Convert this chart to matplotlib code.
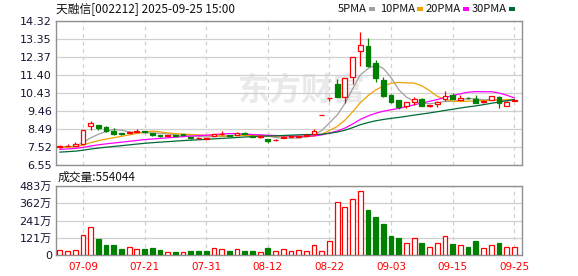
import numpy as np
import pandas as pd
import matplotlib
matplotlib.use('Agg')
import matplotlib.pyplot as plt
from matplotlib.patches import Rectangle

plt.rcParams['font.family'] = ['DejaVu Sans', 'Noto Sans CJK SC']

# ---------------- data ----------------
title_text = '天融信[002212] 2025-09-25 15:00'
vol_title = '成交量:554044'
watermark = '东方财富'

dates = ['07-04', '07-07', '07-08', '07-09', '07-10', '07-11', '07-14', '07-15', '07-16', '07-17',
         '07-18', '07-21', '07-22', '07-23', '07-24', '07-25', '07-28', '07-29', '07-30', '07-31',
         '08-01', '08-04', '08-05', '08-06', '08-07', '08-08', '08-11', '08-12', '08-13', '08-14',
         '08-15', '08-18', '08-19', '08-20', '08-21', '08-22', '08-25', '08-26', '08-27', '08-28',
         '08-29', '09-01', '09-02', '09-03', '09-04', '09-05', '09-08', '09-09', '09-10', '09-11',
         '09-12', '09-15', '09-16', '09-17', '09-18', '09-19', '09-22', '09-23', '09-24', '09-25']
tick_dates = ['07-09', '07-21', '07-31', '08-12', '08-22', '09-03', '09-15', '09-25']

opens = [7.52, 7.56, 7.60, 7.68, 8.65, 8.72, 8.58, 8.36, 8.25, 8.28,
         8.33, 8.37, 8.28, 8.15, 8.13, 8.17, 8.20, 8.05, 7.98, 7.97,
         8.12, 8.20, 8.18, 8.17, 8.27, 8.14, 8.05, 7.96, 7.88, 8.02,
         8.08, 8.07, 8.12, 8.20, 9.25, 10.18, 10.93, 10.24, 11.28, 12.72,
         12.99, 12.04, 11.14, 10.33, 10.05, 9.73, 9.95, 10.09, 9.74, 9.86,
         10.12, 10.35, 10.07, 10.17, 10.09, 9.93, 10.06, 10.22, 9.75, 10.02]
closes = [7.56, 7.60, 7.67, 8.44, 8.80, 8.52, 8.38, 8.23, 8.22, 8.31,
          8.36, 8.34, 8.15, 8.12, 8.15, 8.13, 8.17, 8.02, 8.01, 8.00,
          8.20, 8.23, 8.14, 8.30, 8.24, 8.08, 8.10, 7.84, 7.91, 8.06,
          8.10, 8.12, 8.17, 8.41, 9.25, 10.18, 10.22, 11.24, 12.36, 13.02,
          11.91, 11.23, 10.27, 9.93, 9.70, 9.93, 10.11, 9.76, 9.78, 9.95,
          10.30, 10.13, 10.15, 10.14, 9.90, 10.02, 10.27, 9.90, 9.97, 10.06]
highs = [7.62, 7.70, 7.78, 8.44, 8.92, 8.73, 8.66, 8.52, 8.28, 8.40,
         8.48, 8.40, 8.29, 8.18, 8.17, 8.19, 8.22, 8.06, 8.08, 8.02,
         8.22, 8.38, 8.19, 8.32, 8.31, 8.15, 8.12, 7.97, 7.95, 8.14,
         8.14, 8.14, 8.22, 8.48, 9.25, 10.18, 11.20, 11.24, 12.36, 13.70,
         13.42, 12.22, 11.30, 10.36, 10.08, 9.95, 10.24, 10.15, 9.80, 10.00,
         10.53, 10.45, 10.33, 10.20, 10.33, 10.05, 10.28, 10.25, 9.98, 10.07]
lows = [7.45, 7.55, 7.58, 7.65, 8.45, 8.42, 8.32, 8.18, 8.17, 8.26,
        8.32, 8.30, 8.12, 8.06, 8.10, 8.12, 8.13, 7.96, 7.96, 7.96,
        8.10, 8.15, 8.11, 8.15, 8.20, 8.06, 8.00, 7.75, 7.84, 8.00,
        8.06, 8.05, 8.10, 8.17, 9.25, 10.00, 10.20, 9.91, 10.92, 11.87,
        11.85, 11.05, 10.24, 9.88, 9.57, 9.61, 9.79, 9.74, 9.68, 9.66,
        10.00, 10.10, 10.05, 10.12, 9.88, 9.90, 10.04, 9.61, 9.73, 10.01]
# volume in 万 (10k lots)
volumes = [35, 28, 35, 140, 194, 112, 70, 70, 42, 54,
           40, 42, 49, 35, 21, 21, 21, 28, 28, 28,
           47, 42, 28, 40, 30, 28, 19, 49, 26, 40,
           26, 33, 26, 68, 26, 98, 369, 334, 390, 446,
           315, 266, 217, 133, 119, 82, 117, 84, 54, 82,
           131, 77, 68, 56, 98, 47, 68, 84, 54, 55.4]
# closes before the visible window (estimated), needed for the moving averages
prior_closes = [6.85, 6.90, 6.88, 6.92, 6.95, 6.98, 6.96, 7.00, 7.02, 7.04,
                7.10, 7.18, 7.25, 7.30, 7.28, 7.32, 7.35, 7.33, 7.38, 7.40,
                7.45, 7.48, 7.50, 7.46, 7.47, 7.50, 7.53, 7.49, 7.52]

price_range = [6.55, 14.32]
price_tick_labels = ['6.55', '7.52', '8.49', '9.46', '10.43', '11.40', '12.37', '13.35', '14.32']
vol_max = 483
vol_tick_labels = ['0', '121万', '241万', '362万', '483万']

ma_periods = [5, 10, 20, 30]
ma_names = ['5PMA', '10PMA', '20PMA', '30PMA']
ma_colors = ['#a0a0a0', '#f0a000', '#ff00ff', '#006a36']

# ---------------- styling ----------------
RED = '#ff0000'
GREEN = '#008000'
GRID = '#d0d0d0'
SPINE = '#909090'
W, H = 578, 276

fig = plt.figure(figsize=(W / 100, H / 100), dpi=100)


def rect(l, t, r, b):
    return [l / W, 1 - b / H, (r - l) / W, (b - t) / H]


axp = fig.add_axes(rect(56, 21, 522, 165))
axv = fig.add_axes(rect(56, 186, 522, 255))

n = len(closes)
x = np.arange(n)
o = np.array(opens)
c = np.array(closes)
h = np.array(highs)
l = np.array(lows)
up = c >= o
col = np.where(up, RED, GREEN)
face = np.where(up, 'white', GREEN)
bhi = np.maximum(o, c)
blo = np.minimum(o, c)

xlim = (-0.5, 60.0)
tick_pos = [dates.index(t) for t in tick_dates]

# watermark
axp.text(301 / W, 1 - 92 / H, watermark, transform=fig.transFigure, fontsize=23,
         color='#e9e9e9', ha='center', va='center', family=['Noto Sans CJK SC'],
         weight='bold', zorder=0.5)

# candles
axp.vlines(x, bhi, h, colors=col, lw=0.9, zorder=3)
axp.vlines(x, l, blo, colors=col, lw=0.9, zorder=3)
axp.bar(x, np.maximum(bhi - blo, 0.004), bottom=blo, width=0.62, color=face,
        edgecolor=col, linewidth=0.9, zorder=4)

# moving averages
allc = pd.Series(list(prior_closes) + list(closes))
for p, cc in zip(ma_periods, ma_colors):
    ma = allc.rolling(p).mean().values[-n:]
    axp.plot(x, ma, color=cc, lw=0.9, zorder=2)

axp.set_xlim(*xlim)
axp.set_ylim(*price_range)
pt = np.linspace(price_range[0], price_range[1], len(price_tick_labels))
axp.set_yticks(pt)
axp.set_yticklabels(price_tick_labels)
axp.set_xticks(tick_pos)
axp.tick_params(axis='x', length=0, labelbottom=False)
axp.tick_params(axis='y', length=0, pad=3, labelsize=8, labelcolor='#141433')
axp.grid(axis='y', color=GRID, lw=0.9, ls='-')
axp.grid(axis='x', color=GRID, lw=0.9, ls=(0, (3, 3)))
axp.set_axisbelow(True)

# volume
prev = np.array([prior_closes[-1]] + list(closes[:-1]))
vup = c >= prev
axv.bar(x, volumes, width=0.62, color=np.where(vup, 'white', GREEN),
        edgecolor=np.where(vup, RED, GREEN), linewidth=0.9, zorder=3)
axv.set_xlim(*xlim)
axv.set_ylim(0, vol_max)
axv.set_yticks(np.linspace(0, vol_max, len(vol_tick_labels)))
axv.set_yticklabels(vol_tick_labels)
axv.set_xticks(tick_pos)
axv.set_xticklabels(tick_dates)
axv.tick_params(axis='y', length=0, pad=3, labelsize=8, labelcolor='#141433')
axv.tick_params(axis='x', length=0, pad=5, labelsize=7.5, labelcolor=RED)
axv.grid(axis='y', color=GRID, lw=0.9, ls='-')
axv.grid(axis='x', color=GRID, lw=0.9, ls=(0, (3, 3)))
axv.set_axisbelow(True)

for ax in (axp, axv):
    for s in ax.spines.values():
        s.set_color(SPINE)
        s.set_linewidth(1.0)

# texts
cjk = ['Noto Sans CJK SC', 'DejaVu Sans']
fig.text(56 / W, 1 - 8.5 / H, title_text, fontsize=8.5, family=cjk, ha='left', va='center',
         color='#111111')
fig.text(58 / W, 1 - 177 / H, vol_title, fontsize=8.5, family=cjk, ha='left', va='center',
         color='#111111')

leg_x = [338, 380, 426, 472]
for lx, name, cc in zip(leg_x, ma_names, ma_colors):
    t = fig.text(lx / W, 1 - 8.5 / H, name, fontsize=8, family=cjk, ha='left', va='center',
                 color='#111111')
    fig.canvas.draw() if False else None

renderer = fig.canvas.get_renderer()
for txt, cc in zip([t for t in fig.texts if t.get_text() in ma_names], ma_colors):
    bb = txt.get_window_extent(renderer)
    fig.patches.append(Rectangle(((bb.x1 + 2) / W, (H - 10.5) / H), 6 / W, 3.5 / H,
                                 transform=fig.transFigure, facecolor=cc, edgecolor='none'))

fig.savefig('out.png', dpi=100)
